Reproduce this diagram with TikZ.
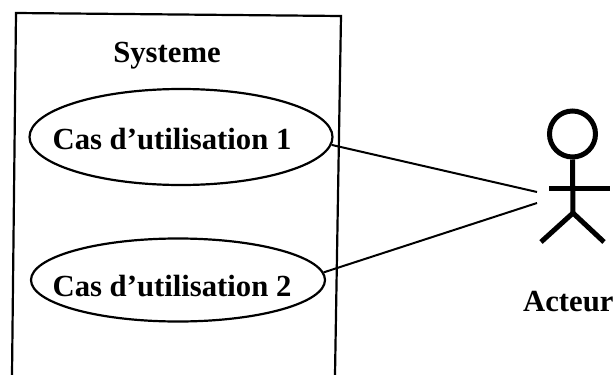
\documentclass[tikz,border=0pt]{standalone}
\usepackage{fontspec}
\setmainfont{Liberation Serif}
\usetikzlibrary{shapes.geometric}
\tikzset{
  usecase/.style={ellipse,draw=black,line width=2.2pt,inner sep=0pt},
  label text/.style={font=\fontsize{30.7}{32}\selectfont\bfseries,inner sep=0pt,text=black},
  link/.style={draw=black,line width=2pt},
  frame/.style={draw=black,line width=2.2pt},
  limb/.style={draw=black,line width=5pt}
}
\begin{document}
\begin{tikzpicture}[x=1pt,y=-1pt]
\useasboundingbox (0,0) rectangle (614,375);
\fill[white] (0,0) rectangle (614,375);
\coordinate (fbl) at (12,375);
\coordinate (ftl) at (16,13);
\coordinate (ftr) at (341,16);
\coordinate (fbr) at (335,375);
\draw[frame] (fbl) -- (ftl) -- (ftr) -- (fbr);
\node[label text] (sys) at (167,56) {Systeme};
\node[usecase,minimum width=303pt,minimum height=96pt] (uc1) at (181,137) {};
\node[label text] (t1) at (172,139) {Cas d'utilisation 1};
\node[usecase,minimum width=294pt,minimum height=83pt] (uc2) at (178,280) {};
\node[label text] (t2) at (172,286) {Cas d'utilisation 2};
\node[circle,draw=black,line width=5pt,minimum size=46pt,inner sep=0pt] (head) at (572.5,134) {};
\coordinate (hip) at (573,213);
\coordinate (shl) at (549,188);
\coordinate (shr) at (610,188);
\coordinate (lfl) at (541,242);
\coordinate (lfr) at (604,242);
\draw[limb] (head.south) -- (hip);
\draw[limb] (shl) -- (shr);
\draw[limb] (lfl) -- (hip) -- (lfr);
\coordinate (a1) at (537,192);
\coordinate (a2) at (537,203);
\draw[link] (uc1.-3.4) -- (a1);
\draw[link] (uc2.3.9) -- (a2);
\node[label text,anchor=west] (act) at (523,302) {Acteur};
\end{tikzpicture}
\end{document}
